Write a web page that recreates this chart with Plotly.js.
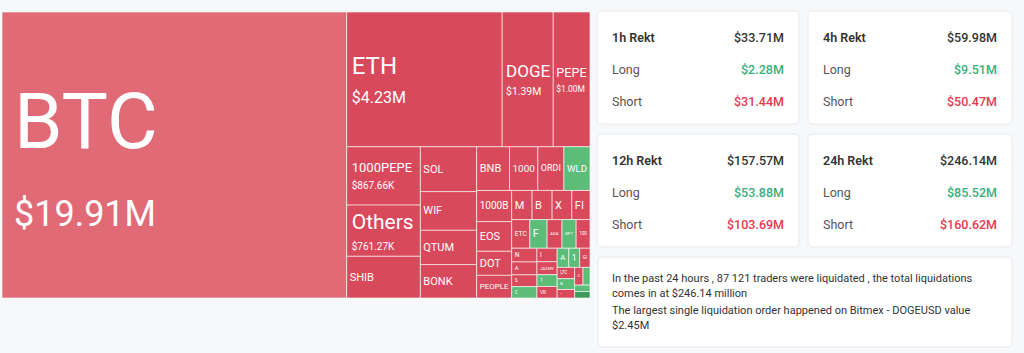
<!DOCTYPE html>
<html>
<head>
<meta charset="utf-8">
<script src="https://cdn.plot.ly/plotly-3.0.1.min.js"></script>
<style>
html,body{margin:0;padding:0;background:#f7f8fa;}
#chart{width:1024px;height:353px;}
</style>
</head>
<body>
<div id="chart"></div>
<script>
// ---------- DATA ----------
// 1h liquidations by coin (treemap), in $M
const coins = ['BTC','ETH','DOGE','PEPE','1000PEPE','Others','SHIB','SOL','WIF','QTUM','BONK',
  'BNB','1000','ORDI','WLD','1000B','EOS','DOT','PEOPLE','M','B','X','FI','ETC','F','ADA','GPT','100',
  'N','A','S','C','I','JASMY','1','VR','A','1','GI','LTC','B','T','C','','',''];
const amountsM = [19.91,4.23,1.39,1.00,0.86766,0.76127,0.62,0.51,0.44,0.39,0.38,
  0.29,0.25,0.23,0.23,0.22,0.21,0.17,0.16,0.12,0.118,0.116,0.107,0.105,0.10,0.086,0.082,0.08,
  0.07,0.066,0.06,0.058,0.055,0.053,0.048,0.047,0.045,0.042,0.04,0.04,0.038,0.03,0.03,0.025,0.02,0.02];
// share of the liquidated amount that were shorts (drives red / green)
const shortShare = [0.72,0.9,0.9,0.9,0.9,0.9,0.9,0.9,0.9,0.9,0.9,
  0.9,0.9,0.9,0.25,0.9,0.9,0.9,0.9,0.9,0.9,0.9,0.9,0.9,0.25,0.9,0.25,0.9,
  0.9,0.9,0.9,0.25,0.9,0.9,0.25,0.9,0.25,0.25,0.9,0.9,0.25,0.9,0.9,0.25,0.25,0.05];

// summary cards
const periods = ['1h','4h','12h','24h'];
const rektTotal = [33.71,59.98,157.57,246.14];
const rektLong = [2.28,9.51,53.88,85.52];
const rektShort = [31.44,50.47,103.69,160.62];
const traders24h = '87 121';
const largestExchange = 'Bitmex';
const largestPair = 'DOGEUSD';
const largestValueM = 2.45;

// ---------- STYLE ----------
const W = 1024, H = 353;
const FONT = 'Roboto, Arial, sans-serif';
// label / value / line font sizes for the big tiles, plus left indent (px)
const tileStyle = {
  'BTC': {l:78, v:36, b:60, pad:9},
  'ETH': {l:24, v:16, b:22, pad:2},
  'DOGE': {l:18, v:11, b:14, pad:1},
  'PEPE': {l:15, v:10, b:13, pad:0},
  '1000PEPE': {l:13, v:10, b:13, pad:2},
  'Others': {l:21, v:10, b:16, pad:2}
};
function tileColor(s){
  if (s >= 0.8) return '#d8495b';
  if (s >= 0.5) return '#e06b77';
  if (s >= 0.15) return '#5cbd78';
  return '#3f9b5b';
}
function fmtM(v){
  return v >= 1 ? '$' + v.toFixed(2) + 'M' : '$' + (v*1000).toFixed(2) + 'K';
}
function indent(px){
  return px > 0 ? '<span style="font-size:' + (px*4) + 'px">\u00a0</span>' : '';
}

// ---------- TREEMAP ----------
const ids = ['root'], labels = [''], parents = [''], values = [0];
const colors = ['#f7f8fa'], texts = [''], sizes = [11];
coins.forEach((c, i) => {
  ids.push('c' + i); labels.push(c); parents.push('root'); values.push(amountsM[i]);
  colors.push(tileColor(shortShare[i]));
  const st = tileStyle[c];
  if (st && amountsM[i] >= 0.7) {
    texts.push(indent(st.pad) + '<span style="font-size:' + st.l + 'px">' + c + '</span><br>' +
               indent(st.pad) + '<span style="font-size:' + st.v + 'px">' + fmtM(amountsM[i]) + '</span>');
    sizes.push(st.b);
  } else {
    texts.push(c);
    sizes.push(11);
  }
});

const treemap = {
  type: 'treemap',
  ids: ids, labels: labels, parents: parents, values: values,
  branchvalues: 'remainder', sort: true,
  texttemplate: texts,
  textposition: 'middle left',
  textfont: {family: FONT, size: sizes, color: '#ffffff'},
  marker: {colors: colors, line: {color: 'rgba(255,255,255,0.6)', width: 1},
           pad: {t:0, l:0, r:0, b:0}, depthfade: false},
  leaf: {opacity: 1},
  tiling: {packing: 'squarify', squarifyratio: 1.618, pad: 0},
  pathbar: {visible: false},
  hoverinfo: 'none',
  domain: {x: [2/W, 590/W], y: [1 - 298/H, 1 - 12/H]}
};

// ---------- CARDS ----------
const X = v => +(v / W).toFixed(5);
const Y = v => +(1 - v / H).toFixed(5);
function rrect(x0, y0, x1, y1, r){
  return 'M' + X(x0+r) + ',' + Y(y0) + ' L' + X(x1-r) + ',' + Y(y0) +
    ' Q' + X(x1) + ',' + Y(y0) + ' ' + X(x1) + ',' + Y(y0+r) +
    ' L' + X(x1) + ',' + Y(y1-r) +
    ' Q' + X(x1) + ',' + Y(y1) + ' ' + X(x1-r) + ',' + Y(y1) +
    ' L' + X(x0+r) + ',' + Y(y1) +
    ' Q' + X(x0) + ',' + Y(y1) + ' ' + X(x0) + ',' + Y(y1-r) +
    ' L' + X(x0) + ',' + Y(y0+r) +
    ' Q' + X(x0) + ',' + Y(y0) + ' ' + X(x0+r) + ',' + Y(y0) + ' Z';
}
const shapes = [], annotations = [];
const colX = [[597, 799], [808, 1012]];
const rowY = [[11, 124], [134, 247]];
function ann(text, px, py, xanchor, font){
  annotations.push({text: text, x: X(px), y: Y(py), xref: 'paper', yref: 'paper',
    xanchor: xanchor, yanchor: 'middle', showarrow: false, font: font});
}
periods.forEach((p, i) => {
  const [x0, x1] = colX[i % 2];
  const [y0, y1] = rowY[Math.floor(i / 2)];
  shapes.push({type: 'path', xref: 'paper', yref: 'paper', path: rrect(x0, y0, x1, y1, 5),
    fillcolor: '#ffffff', line: {color: '#e7e9ec', width: 1}});
  const L = x0 + 13, R = x1 - 13;
  ann(p + ' Rekt', L, y0 + 26, 'left', {family: FONT, size: 12.5, color: '#333333', weight: 600});
  ann('$' + rektTotal[i].toFixed(2) + 'M', R, y0 + 26, 'right', {family: FONT, size: 12.5, color: '#333333', weight: 500});
  ann('Long', L, y0 + 59, 'left', {family: FONT, size: 12.5, color: '#555555'});
  ann('$' + rektLong[i].toFixed(2) + 'M', R, y0 + 59, 'right', {family: FONT, size: 12.5, color: '#3aae7c', weight: 500});
  ann('Short', L, y0 + 91, 'left', {family: FONT, size: 12.5, color: '#555555'});
  ann('$' + rektShort[i].toFixed(2) + 'M', R, y0 + 91, 'right', {family: FONT, size: 12.5, color: '#e6394f', weight: 500});
});
shapes.push({type: 'path', xref: 'paper', yref: 'paper', path: rrect(598, 257, 1012, 347, 5),
  fillcolor: '#ffffff', line: {color: '#e7e9ec', width: 1}});
const lines = [
  'In the past 24 hours , ' + traders24h + ' traders were liquidated , the total liquidations',
  'comes in at $' + rektTotal[3].toFixed(2) + ' million',
  'The largest single liquidation order happened on ' + largestExchange + ' - ' + largestPair + ' value',
  '$' + largestValueM.toFixed(2) + 'M'
];
lines.forEach((t, k) => ann(t, 610, 278 + 16*k, 'left', {family: FONT, size: 11, color: '#333333'}));

const layout = {
  width: W, height: H,
  margin: {l: 0, r: 0, t: 0, b: 0},
  paper_bgcolor: '#f7f8fa',
  showlegend: false,
  shapes: shapes,
  annotations: annotations
};
Plotly.newPlot('chart', [treemap], layout, {displayModeBar: false, staticPlot: true});
</script>
</body>
</html>
